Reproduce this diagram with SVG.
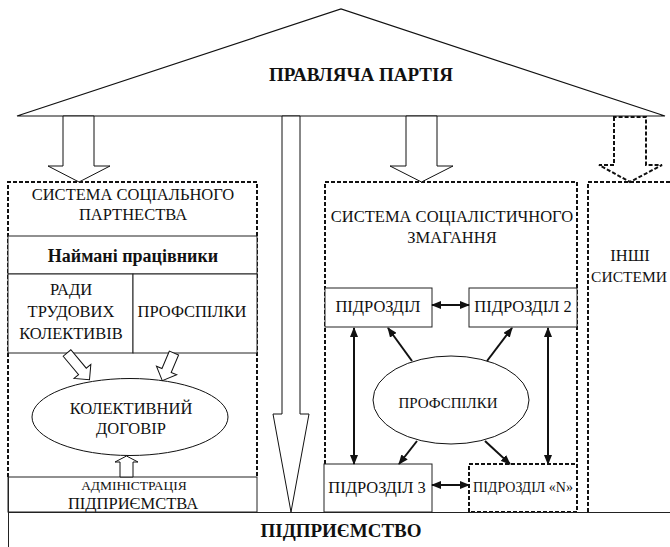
<svg xmlns="http://www.w3.org/2000/svg" width="670" height="547" viewBox="0 0 670 547">
<style>
text{font-family:'Liberation Serif','Times New Roman',serif;font-size:16.5px;fill:#111;text-anchor:middle}
.b{font-weight:bold}
.box{fill:#fff;stroke:#222;stroke-width:1}
.dash{fill:none;stroke:#111;stroke-width:2;stroke-dasharray:4,2}
.blk{fill:#fff;stroke:#111;stroke-width:1}
.ln{fill:none;stroke:#111;stroke-width:2}
</style>
<defs>
<marker id="ah" markerUnits="userSpaceOnUse" markerWidth="10" markerHeight="8" refX="9" refY="4" orient="auto-start-reverse">
<path d="M0,0 L10,4 L0,8 z" fill="#111"/>
</marker>
</defs>
<rect width="670" height="547" fill="#fff"/>

<g id="party">
<polygon points="17,116 341,9 665,116" fill="#fff" stroke="#111" stroke-width="1.2"/>
<text x="361" y="81" class="b" style="font-size:19px">ПРАВЛЯЧА ПАРТІЯ</text>
</g>

<g id="social-partnership">
<path class="dash" d="M8,477 V182 H257 V477"/>
<text x="133" y="200">СИСТЕМА СОЦІАЛЬНОГО</text>
<text x="133" y="220">ПАРТНЕСТВА</text>
</g>
<g id="employees">
<rect class="box" x="8" y="236" width="249" height="38"/>
<text x="133" y="262" class="b" style="font-size:18px">Наймані працівники</text>
</g>
<g id="councils">
<rect class="box" x="8" y="274" width="125" height="79"/>
<text x="71" y="295">РАДИ</text>
<text x="71" y="317">ТРУДОВИХ</text>
<text x="71" y="339">КОЛЕКТИВІВ</text>
</g>
<g id="unions-left">
<rect class="box" x="133" y="274" width="124" height="79"/>
<text x="192" y="317">ПРОФСПІЛКИ</text>
</g>
<g id="collective-agreement">
<ellipse cx="130" cy="417" rx="98" ry="38.5" fill="#fff" stroke="#111" stroke-width="1"/>
<text x="131" y="414">КОЛЕКТИВНИЙ</text>
<text x="131" y="434">ДОГОВІР</text>
</g>
<g id="administration">
<rect class="box" x="8" y="477" width="249" height="35"/>
<text x="134" y="490" style="font-size:13.5px">АДМІНІСТРАЦІЯ</text>
<text x="133" y="509">ПІДПРИЄМСТВА</text>
</g>

<g id="socialist-competition">
<path class="dash" d="M325,464 V182 H577 V464"/>
<text x="452" y="222">СИСТЕМА СОЦІАЛІСТИЧНОГО</text>
<text x="452" y="243">ЗМАГАННЯ</text>
</g>
<g id="unit1">
<rect class="box" x="325" y="288" width="107" height="39"/>
<text x="378" y="312">ПІДРОЗДІЛ</text>
</g>
<g id="unit2">
<rect class="box" x="469" y="288" width="108" height="39"/>
<text x="523" y="312">ПІДРОЗДІЛ 2</text>
</g>
<g id="unions-right">
<ellipse cx="451" cy="400" rx="78" ry="44" fill="#fff" stroke="#111" stroke-width="1"/>
<text x="448" y="408" style="font-size:15px">ПРОФСПІЛКИ</text>
</g>
<g id="unit3">
<rect class="box" x="324" y="464" width="108" height="48"/>
<text x="377" y="493">ПІДРОЗДІЛ 3</text>
</g>
<g id="unitN">
<rect x="469" y="464" width="108" height="48" fill="#fff" class="dash"/>
<text x="523" y="492" style="font-size:14px">ПІДРОЗДІЛ «N»</text>
</g>

<g id="other-systems">
<path class="dash" d="M588,512 V182 H672"/>
<text x="630" y="261">ІНШІ</text>
<text x="629" y="282" style="font-size:15.5px">СИСТЕМИ</text>
</g>

<g id="enterprise">
<line x1="8" y1="512.5" x2="670" y2="512.5" stroke="#222" stroke-width="1.2"/>
<line x1="8.5" y1="477" x2="8.5" y2="547" stroke="#222" stroke-width="1"/>
<text x="341" y="537" class="b" style="font-size:19px">ПІДПРИЄМСТВО</text>
</g>

<g id="connectors">
<polygon class="blk" points="63,116 63,166 48,166 79,182 110,166 94,166 94,116"/>
<polygon class="blk" points="406,116 406,166 390,166 421.5,182 453,166 437,166 437,116"/>
<polygon class="blk" points="282,116 282,414 273,414 291,512 309,414 300,414 300,116"/>
<polygon class="dash" points="614,117 614,165 599,165 630,182 662,165 646,165 646,117"/>
<polygon class="blk" transform="translate(67,353) rotate(-40)" points="-5,0 -5,24 -11,24 0,35 11,24 5,24 5,0"/>
<polygon class="blk" transform="translate(174,353) rotate(23)" points="-5,0 -5,19 -11,19 0,30 11,19 5,19 5,0"/>
<polygon class="blk" points="120,477 120,462 115,462 126.5,456 138,462 133,462 133,477"/>
<line class="ln" x1="432" y1="305" x2="469" y2="305" marker-start="url(#ah)" marker-end="url(#ah)"/>
<line class="ln" x1="432" y1="485" x2="469" y2="485" marker-start="url(#ah)" marker-end="url(#ah)"/>
<line class="ln" x1="354" y1="328" x2="354" y2="464" marker-start="url(#ah)" marker-end="url(#ah)"/>
<line class="ln" x1="548" y1="328" x2="548" y2="464" marker-start="url(#ah)" marker-end="url(#ah)"/>
<line class="ln" x1="412" y1="361" x2="388" y2="328" marker-end="url(#ah)"/>
<line class="ln" x1="487" y1="361" x2="512" y2="328" marker-end="url(#ah)"/>
<line class="ln" x1="417" y1="441" x2="399" y2="464" marker-end="url(#ah)"/>
<line class="ln" x1="485" y1="441" x2="510" y2="464" marker-end="url(#ah)"/>
</g>
</svg>
